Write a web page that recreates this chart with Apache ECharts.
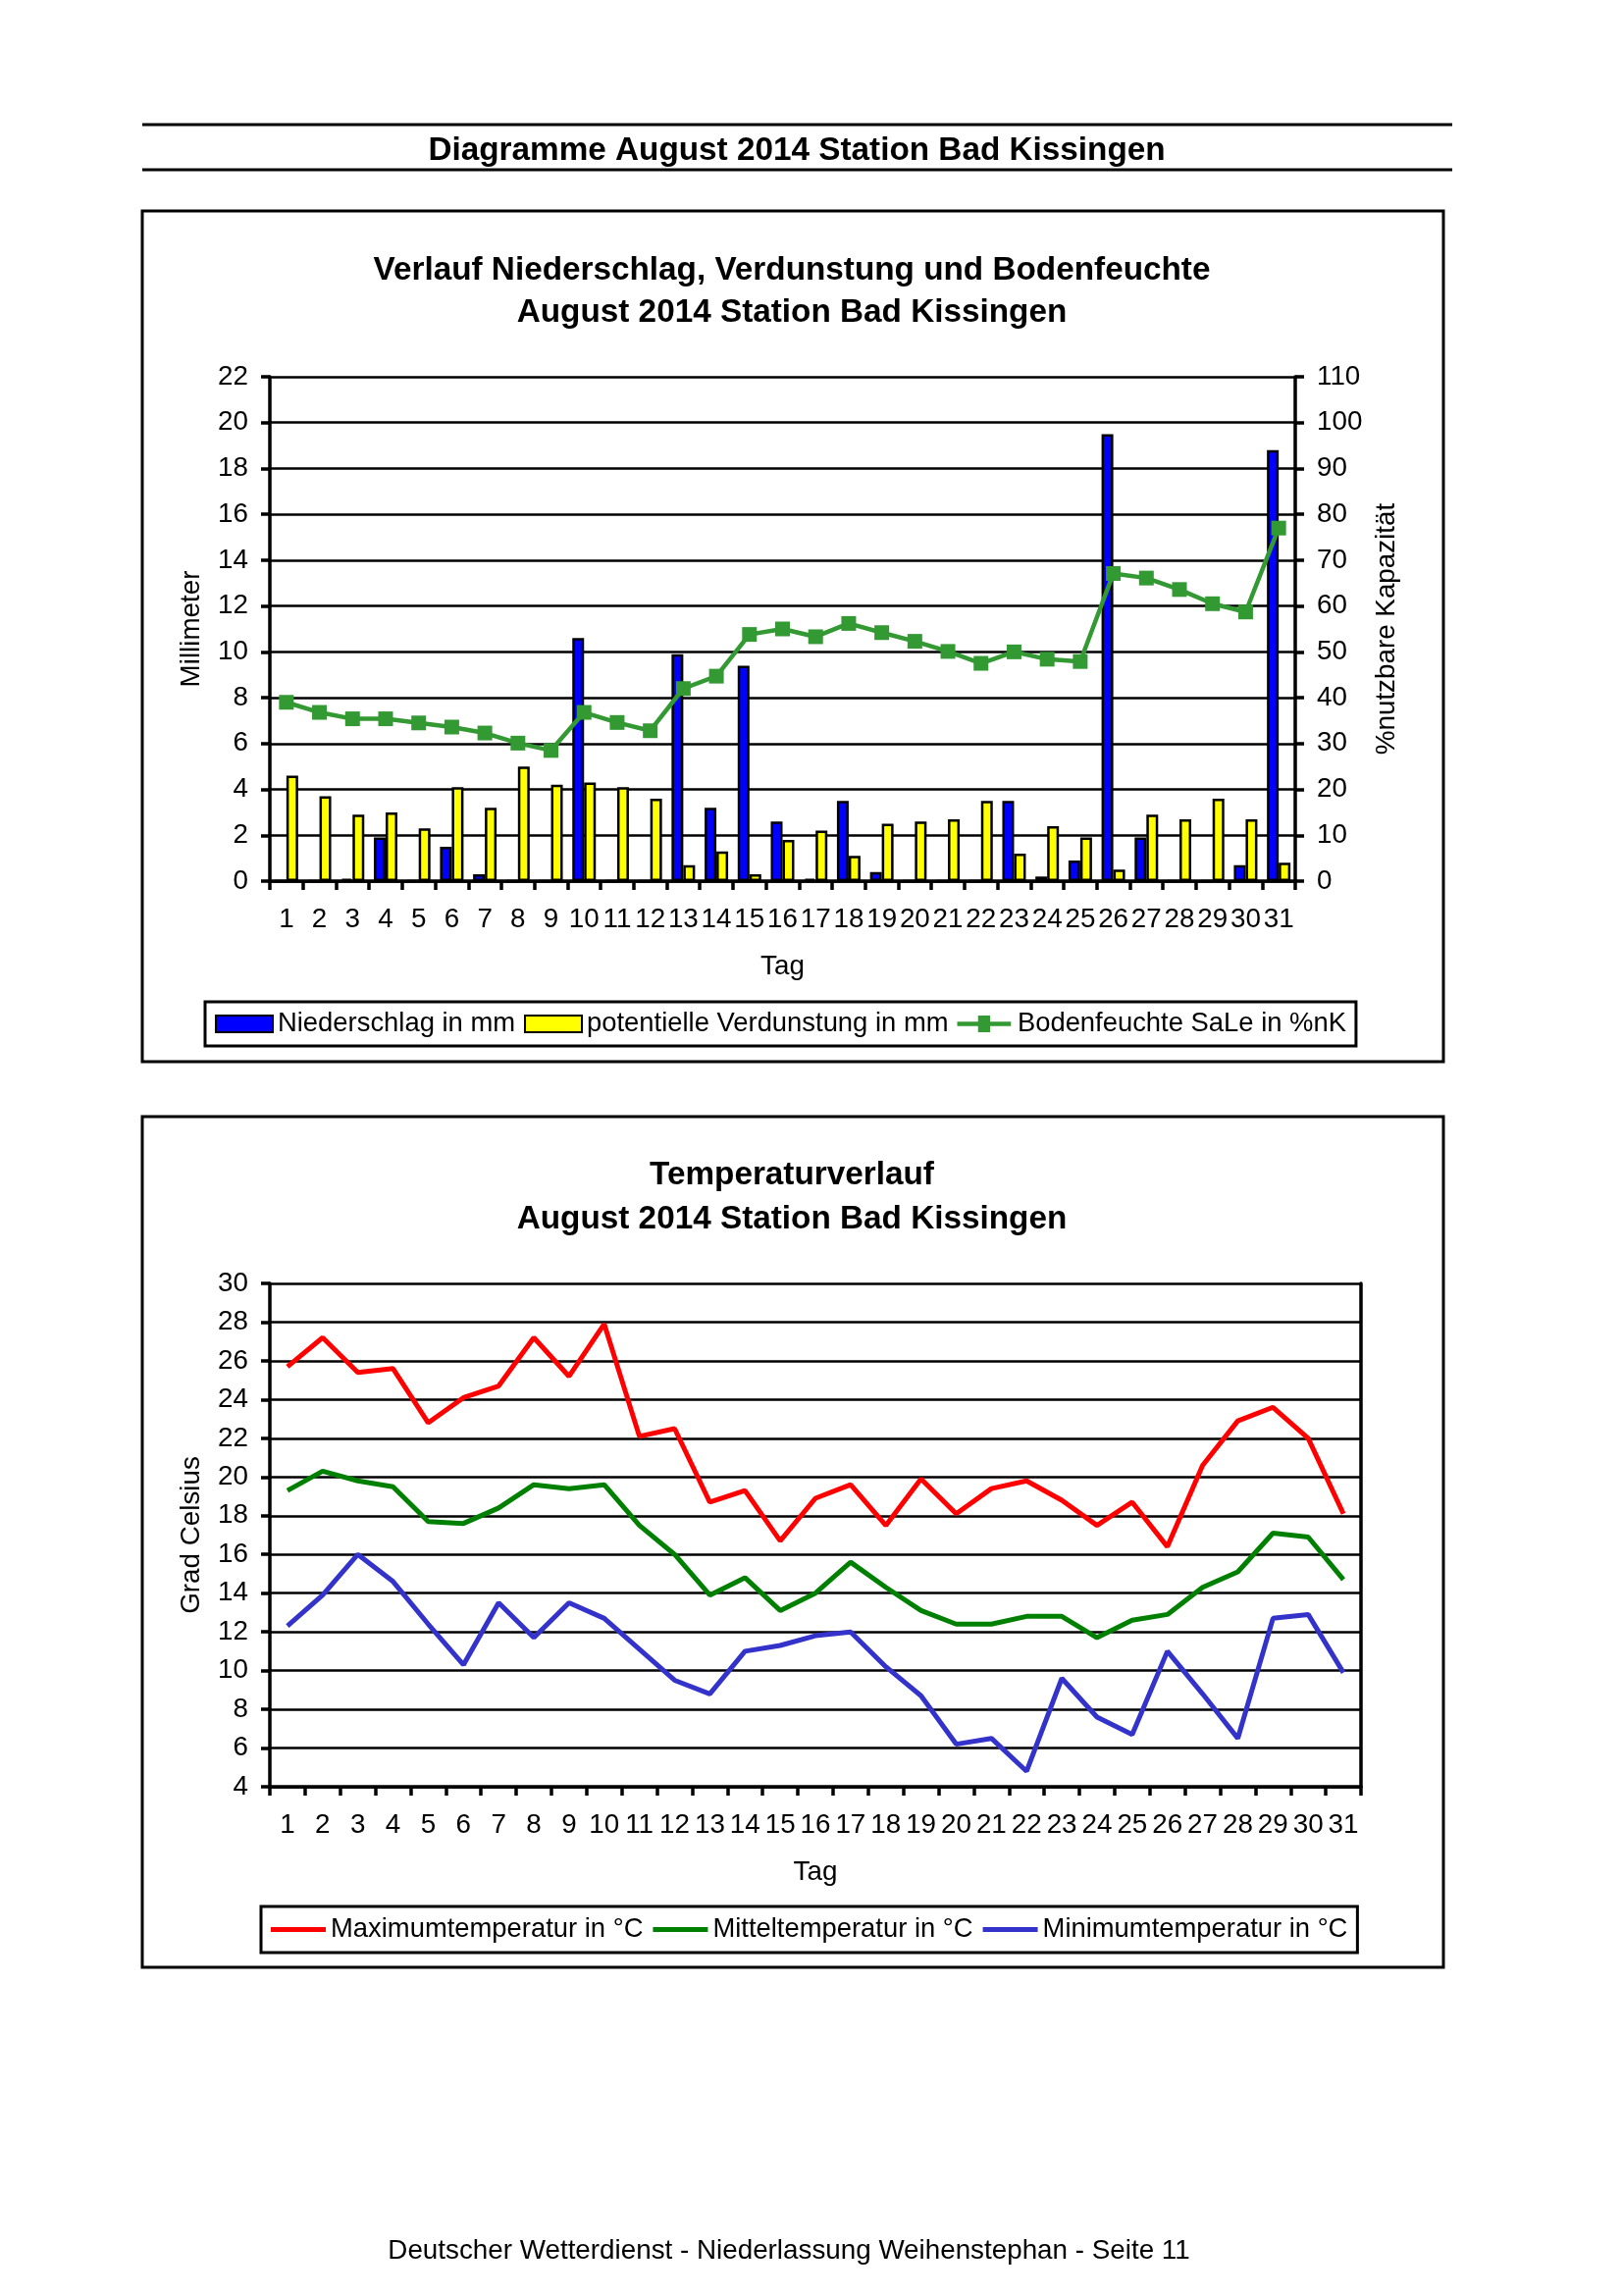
<!DOCTYPE html>
<html><head><meta charset="utf-8">
<script src="https://cdn.jsdelivr.net/npm/echarts@6/dist/echarts.min.js"></script>
<style>html,body{margin:0;padding:0;background:#fff}#c{width:1653px;height:2340px}</style>
</head><body><div id="c"></div>
<script>
const days = ['1','2','3','4','5','6','7','8','9','10','11','12','13','14','15','16','17','18','19','20','21','22','23','24','25','26','27','28','29','30','31'];
const precip = [0,0,0.1,1.9,0,1.5,0.3,0,0,10.6, 0,0,9.9,3.2,9.4,2.6,0.1,3.5,0.4,0, 0,0,3.5,0.2,0.9,19.5,1.9,0,0,0.7, 18.8];
const evap = [4.6,3.7,2.9,3.0,2.3,4.1,3.2,5.0,4.2,4.3, 4.1,3.6,0.7,1.3,0.3,1.8,2.2,1.1,2.5,2.6, 2.7,3.5,1.2,2.4,1.9,0.5,2.9,2.7,3.6,2.7, 0.8];
const soil = [39.0,36.8,35.4,35.4,34.5,33.6,32.3,30.1,28.5,36.8, 34.6,32.8,42.0,44.7,53.8,55.0,53.3,56.2,54.2,52.3, 50.1,47.5,50.0,48.4,47.9,67.1,66.1,63.6,60.5,58.7, 77.0];
const tmax = [25.7,27.2,25.4,25.6,22.8,24.1,24.7,27.2,25.2,27.9, 22.1,22.5,18.7,19.3,16.7,18.9,19.6,17.5,19.9,18.1, 19.4,19.8,18.8,17.5,18.7,16.4,20.6,22.9,23.6,22.0, 18.1];
const tmean = [19.3,20.3,19.8,19.5,17.7,17.6,18.4,19.6,19.4,19.6, 17.5,16.0,13.9,14.8,13.1,14.0,15.6,14.3,13.1,12.4, 12.4,12.8,12.8,11.7,12.6,12.9,14.3,15.1,17.1,16.9, 14.7];
const tmin = [12.3,13.9,16.0,14.6,12.4,10.3,13.5,11.7,13.5,12.7, 11.1,9.5,8.8,11.0,11.3,11.8,12.0,10.2,8.7,6.2, 6.5,4.8,9.6,7.6,6.7,11.0,8.8,6.5,12.7,12.9, 9.9];

const FONT = '"Liberation Sans", Arial, sans-serif';
const txt = {color:'#000', fontSize:27.8, fontFamily:FONT};
const legTxt = {color:'#000', fontSize:27.4, fontFamily:FONT};
const blk = {color:'#000', width:3.5};
const TITLE_FONT = 'bold 33.3px "Liberation Sans", Arial, sans-serif';

function xAx(grid){
  return {type:'category', gridIndex:grid, data:days, boundaryGap:true,
    axisLine:{show:true, onZero:false, lineStyle:blk},
    axisTick:{show:true, inside:false, length:9, lineStyle:blk},
    axisLabel:Object.assign({interval:0, margin:25}, txt),
    splitLine:{show:false},
    name:'Tag', nameLocation:'middle', nameGap:73, nameTextStyle:txt};
}
function yAx(grid, min, max, itv, pos, name, gap, labels, split){
  return {type:'value', gridIndex:grid, min:min, max:max, interval:itv, position:pos,
    axisLine:{show:true, lineStyle:blk},
    axisTick:{show:labels, inside:false, length:9, lineStyle:blk},
    axisLabel:Object.assign({show:labels, margin:22}, txt),
    splitLine:{show:split, lineStyle:{color:'#000', width:2.6}},
    name:name, nameLocation:'middle', nameGap:gap, nameRotate:90, nameTextStyle:txt};
}

const chart = echarts.init(document.getElementById('c'), null, {renderer:'canvas'});
chart.setOption({
  animation:false,
  backgroundColor:'#fff',
  textStyle:{fontFamily:FONT},
  grid:[
    {left:275, top:384, width:1045, height:514},
    {left:275, top:1308, width:1112, height:513}
  ],
  xAxis:[xAx(0), xAx(1)],
  yAxis:[
    yAx(0,0,22,2,'left','Millimeter',66,true,true),
    yAx(0,0,110,10,'right','%nutzbare Kapazität',73,true,false),
    yAx(1,4,30,2,'left','Grad Celsius',66,true,true),
    yAx(1,4,30,2,'right','',0,false,false)
  ],
  legend:[
    {left:209, top:1021, orient:'horizontal', selectedMode:false,
     data:[{name:'Niederschlag in mm', icon:'rect'},{name:'potentielle Verdunstung in mm', icon:'rect'},
           {name:'Bodenfeuchte SaLe in %nK', icon:'path://M0,6.5L22.5,6.5L22.5,0L35.5,0L35.5,6.5L58,6.5L58,11.5L35.5,11.5L35.5,18L22.5,18L22.5,11.5L0,11.5Z'}],
     itemWidth:58, itemHeight:17, itemGap:9, padding:[9,10], borderColor:'#000', borderWidth:3,
     backgroundColor:'#fff', textStyle:legTxt},
    {left:266, top:1943, orient:'horizontal', selectedMode:false,
     data:[{name:'Maximumtemperatur in °C', icon:'rect'},{name:'Mitteltemperatur in °C', icon:'rect'},{name:'Minimumtemperatur in °C', icon:'rect'}],
     itemWidth:56, itemHeight:5, itemGap:10, padding:[10,10], borderColor:'#000', borderWidth:3,
     backgroundColor:'#fff', textStyle:legTxt}
  ],
  series:[
    {type:'bar', name:'Niederschlag in mm', xAxisIndex:0, yAxisIndex:0, data:precip, barWidth:12, barGap:'0%',
     itemStyle:{color:'#0000ff', borderColor:'#000', borderWidth:2.5}},
    {type:'bar', name:'potentielle Verdunstung in mm', xAxisIndex:0, yAxisIndex:0, data:evap, barWidth:12, barGap:'0%',
     itemStyle:{color:'#ffff00', borderColor:'#000', borderWidth:2.5}},
    {type:'line', name:'Bodenfeuchte SaLe in %nK', xAxisIndex:0, yAxisIndex:1, data:soil, symbol:'rect', symbolSize:15,
     lineStyle:{color:'#339933', width:4.5}, itemStyle:{color:'#339933'}, z:5},
    {type:'line', name:'Maximumtemperatur in °C', xAxisIndex:1, yAxisIndex:2, data:tmax, symbol:'none',
     lineStyle:{color:'#ff0000', width:5}, itemStyle:{color:'#ff0000'}},
    {type:'line', name:'Mitteltemperatur in °C', xAxisIndex:1, yAxisIndex:2, data:tmean, symbol:'none',
     lineStyle:{color:'#008000', width:5}, itemStyle:{color:'#008000'}},
    {type:'line', name:'Minimumtemperatur in °C', xAxisIndex:1, yAxisIndex:2, data:tmin, symbol:'none',
     lineStyle:{color:'#3333cc', width:5}, itemStyle:{color:'#3333cc'}}
  ],
  graphic:[
    {type:'line', shape:{x1:145,y1:127,x2:1480,y2:127}, style:{stroke:'#000', lineWidth:3}},
    {type:'line', shape:{x1:145,y1:173,x2:1480,y2:173}, style:{stroke:'#000', lineWidth:3}},
    {type:'rect', shape:{x:145,y:215,width:1326,height:867}, style:{fill:'rgba(0,0,0,0)', stroke:'#000', lineWidth:3}},
    {type:'rect', shape:{x:145,y:1138,width:1326,height:867}, style:{fill:'rgba(0,0,0,0)', stroke:'#000', lineWidth:3}},
    {type:'text', x:812, y:154, style:{text:'Diagramme August 2014 Station Bad Kissingen', font:TITLE_FONT, textAlign:'center', textVerticalAlign:'middle', fill:'#000'}},
    {type:'text', x:807, y:276, style:{text:'Verlauf Niederschlag, Verdunstung und Bodenfeuchte', font:TITLE_FONT, textAlign:'center', textVerticalAlign:'middle', fill:'#000'}},
    {type:'text', x:807, y:319, style:{text:'August 2014 Station Bad Kissingen', font:TITLE_FONT, textAlign:'center', textVerticalAlign:'middle', fill:'#000'}},
    {type:'text', x:807, y:1198, style:{text:'Temperaturverlauf', font:TITLE_FONT, textAlign:'center', textVerticalAlign:'middle', fill:'#000'}},
    {type:'text', x:807, y:1243, style:{text:'August 2014 Station Bad Kissingen', font:TITLE_FONT, textAlign:'center', textVerticalAlign:'middle', fill:'#000'}},
    {type:'text', x:804, y:2294, style:{text:'Deutscher Wetterdienst - Niederlassung Weihenstephan - Seite 11', font:'27.8px "Liberation Sans", Arial, sans-serif', textAlign:'center', textVerticalAlign:'middle', fill:'#000'}}
  ]
});
</script></body></html>
